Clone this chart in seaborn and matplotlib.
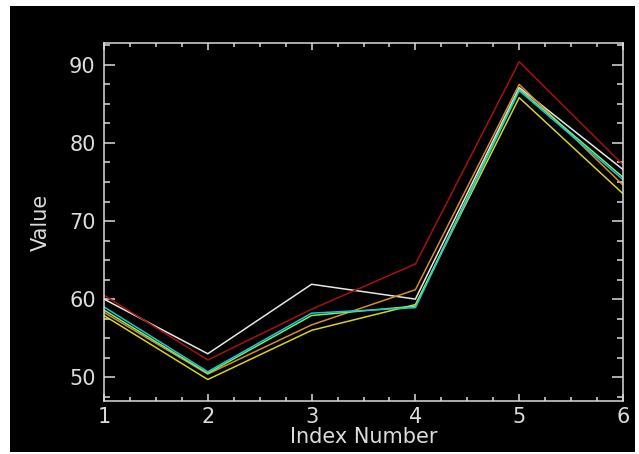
import matplotlib
matplotlib.use("Agg")
import matplotlib.pyplot as plt
from matplotlib.patches import Rectangle
from matplotlib.ticker import MultipleLocator
import numpy as np
import pandas as pd
import seaborn as sns

# Values of each series at index 1..6
index = [1, 2, 3, 4, 5, 6]
white_vals = [60.0, 53.0, 61.9, 60.0, 87.1, 76.6]
yellow_vals = [57.9, 49.7, 56.0, 59.3, 85.8, 73.5]
orange_vals = [58.3, 50.4, 56.7, 61.2, 87.5, 74.6]
green_vals = [58.6, 50.5, 57.9, 59.1, 86.9, 75.6]
cyan_vals = [59.0, 50.7, 58.2, 58.9, 86.7, 75.3]
red_vals = [60.5, 52.2, 58.7, 64.5, 90.4, 77.2]

series_names = ["white", "yellow", "orange", "green", "cyan", "red"]
series_vals = [white_vals, yellow_vals, orange_vals, green_vals, cyan_vals, red_vals]
series_colors = ["#e6e6e6", "#d6d21e", "#d88c2c", "#72f072", "#22c4c8", "#a81010"]

df = pd.DataFrame({
    "Index Number": np.tile(index, len(series_names)),
    "Value": np.concatenate(series_vals),
    "series": np.repeat(series_names, len(index)),
})

sns.set_style("dark")
plt.rcParams["font.family"] = ["DejaVu Sans"]

fig = plt.figure(figsize=(6.39, 4.54), dpi=100, facecolor="white")
# black plotting window inside a thin white margin
fig.patches.append(Rectangle((10 / 639, 2 / 454), 625 / 639, 446 / 454,
                             transform=fig.transFigure, facecolor="black",
                             edgecolor="none", zorder=-10))

ax = fig.add_axes([104 / 639, 53 / 454, 519 / 639, 358 / 454])
ax.set_facecolor("black")

sns.lineplot(data=df, x="Index Number", y="Value", hue="series",
             hue_order=series_names, palette=dict(zip(series_names, series_colors)),
             linewidth=1.1, legend=False, ax=ax, sort=False)

ax.set_xlim(1, 6)
ax.set_ylim(46.95, 92.8)
ax.grid(False)

fg = "#dcdcdc"
for sp in ax.spines.values():
    sp.set_color(fg)
    sp.set_linewidth(1.1)

ax.xaxis.set_major_locator(MultipleLocator(1))
ax.xaxis.set_minor_locator(MultipleLocator(0.25))
ax.yaxis.set_major_locator(MultipleLocator(10))
ax.yaxis.set_minor_locator(MultipleLocator(2.5))

ax.tick_params(axis="x", which="major", direction="in", length=5, width=1.1,
               color=fg, top=True, bottom=True, labelcolor=fg, labelsize=15, pad=4)
ax.tick_params(axis="x", which="minor", direction="in", length=2.8, width=1.1,
               color=fg, top=True, bottom=True)
ax.tick_params(axis="y", which="major", direction="in", length=8, width=1.1,
               color=fg, left=True, right=True, labelcolor=fg, labelsize=15, pad=6)
ax.tick_params(axis="y", which="minor", direction="in", length=4.2, width=1.1,
               color=fg, left=True, right=True)

ax.set_xlabel("Index Number", color=fg, fontsize=15, labelpad=0)
ax.set_ylabel("Value", color=fg, fontsize=15, labelpad=13)

fig.savefig("out.png", dpi=100, facecolor="white")
